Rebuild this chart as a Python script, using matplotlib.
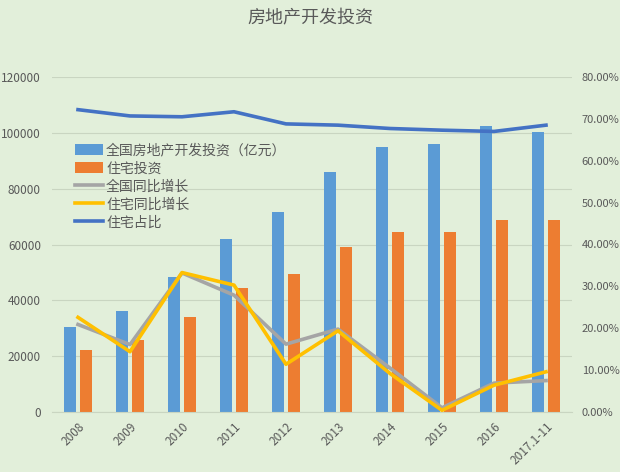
import matplotlib

matplotlib.use("Agg")
import matplotlib.pyplot as plt
import numpy as np
from matplotlib.ticker import FuncFormatter

plt.rcParams["font.family"] = ["Noto Sans CJK SC", "DejaVu Sans"]

# 数据（亿元 / 百分比）
years = ["2008", "2009", "2010", "2011", "2012", "2013", "2014", "2015", "2016", "2017.1-11"]
total_inv = [30580, 36232, 48259, 61796, 71804, 86013, 95036, 95979, 102581, 100387]
housing_inv = [22081, 25614, 34026, 44308, 49374, 58951, 64352, 64595, 68704, 68712]
total_yoy = [20.9, 16.1, 33.2, 27.9, 16.2, 19.8, 10.5, 1.0, 6.9, 7.5]
housing_yoy = [22.6, 14.4, 33.3, 30.3, 11.4, 19.4, 9.2, 0.4, 6.4, 9.6]
housing_share = [72.2, 70.7, 70.5, 71.7, 68.8, 68.5, 67.7, 67.3, 67.0, 68.5]

BG = "#E2EFDA"
GRID = "#C9D5C1"
TXT = "#595959"

fig = plt.figure(figsize=(6.2, 4.72), dpi=100, facecolor=BG)
ax = fig.add_axes([52 / 620, 60 / 472, 520 / 620, 335 / 472])
ax.set_facecolor(BG)
ax2 = ax.twinx()
ax2.patch.set_visible(False)

x = np.arange(len(years))
w = 0.23
ax.bar(x - 0.145, total_inv, w, color="#5B9BD5", label="全国房地产开发投资（亿元）", zorder=2)
ax.bar(x + 0.145, housing_inv, w, color="#ED7D31", label="住宅投资", zorder=2)

l1, = ax2.plot(x, total_yoy, color="#A5A5A5", lw=2.6, label="全国同比增长")
l2, = ax2.plot(x, housing_yoy, color="#FFC000", lw=2.6, label="住宅同比增长")
l3, = ax2.plot(x, housing_share, color="#4472C4", lw=2.6, label="住宅占比")

ax.set_xlim(-0.5, len(years) - 0.5)
ax.set_ylim(0, 120000)
ax.set_yticks(np.arange(0, 120001, 20000))
ax2.set_ylim(0, 80)
ax2.set_yticks(np.arange(0, 81, 10))
ax2.yaxis.set_major_formatter(FuncFormatter(lambda v, _: f"{v:.2f}%"))

ax.grid(axis="y", color=GRID, lw=0.8, zorder=0)
ax.set_axisbelow(True)
for a in (ax, ax2):
    for s in a.spines.values():
        s.set_visible(False)
    a.tick_params(length=0, colors=TXT, labelsize=8.5)
ax.spines["bottom"].set_visible(True)
ax.spines["bottom"].set_color(GRID)

ax.set_xticks(x)
ax.set_xticklabels(years, rotation=45, ha="right", rotation_mode="anchor")
ax.tick_params(axis="x", pad=6)
ax.tick_params(axis="y", pad=8)
ax2.tick_params(axis="y", pad=7, labelsize=8)

h1, lb1 = ax.get_legend_handles_labels()
leg = ax.legend(h1 + [l1, l2, l3], lb1 + [l1.get_label(), l2.get_label(), l3.get_label()],
                loc="upper left", bbox_to_anchor=(0.02, 0.84), frameon=False,
                fontsize=10, handlelength=2.0, handleheight=0.9, labelspacing=0.3,
                handletextpad=0.25, labelcolor=TXT)

fig.text(0.5, 0.962, "房地产开发投资", ha="center", va="center", fontsize=13, color=TXT)

fig.savefig("out.png", dpi=100, facecolor=BG)
